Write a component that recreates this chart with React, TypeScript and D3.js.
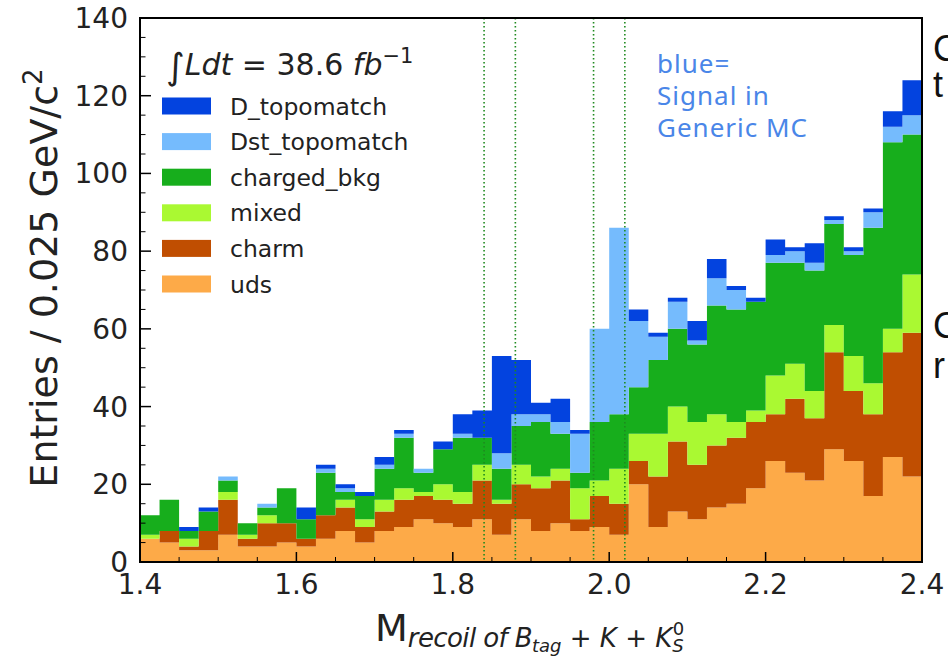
import React from 'react';
import * as d3 from 'd3';

// 40 bins of 0.025 GeV/c^2 from 1.4 to 2.4
const binLow = d3.range(40).map(i => 1.4 + i * 0.025);

const uds = [6, 5, 3, 3, 7, 4, 4, 5, 4, 6, 8, 5, 8, 9, 11, 10, 9, 11, 7, 11, 8, 10, 8, 9, 7, 20, 9, 13, 11, 14, 15, 19, 26, 23, 21, 29, 26, 17, 27, 22];
const charm = [0, 3, 1, 5, 9, 2, 6, 5, 2, 6, 6, 4, 5, 7, 6, 6, 6, 10, 8, 9, 11, 11, 3, 8, 8, 6, 13, 18, 14, 16, 17, 17, 12, 19, 16, 25, 18, 21, 27, 37];
const mixed = [1, 0, 2, 0, 2, 1, 2, 0, 0, 0, 2, 2, 3, 3, 1, 4, 3, 4, 1, 5, 3, 3, 8, 4, 9, 7, 11, 9, 11, 8, 4, 3, 10, 9, 7, 7, 9, 8, 6, 15];
const chargedBkg = [5, 8, 2, 5, 3, 3, 2, 9, 5, 11, 2, 6, 8, 13, 5, 9, 14, 7, 8, 10, 14, 9, 4, 15, 14, 12, 19, 20, 20, 28, 29, 28, 29, 26, 31, 26, 26, 40, 48, 36];
const dstTopomatch = [0, 0, 0, 0, 1, 0, 1, 0, 0, 1, 1, 0, 1, 1, 1, 0, 1, 0, 4, 3, 2, 3, 10, 24, 48, 17, 6, 7, 1, 7, 5, 0, 2, 3, 2, 1, 1, 4, 4, 5];
const dTopomatch = [0, 0, 1, 1, 0, 0, 0, 0, 3, 1, 1, 1, 2, 1, 0, 2, 5, 7, 25, 14, 3, 6, 1, 0, 0, 3, 1, 1, 5, 5, 1, 1, 4, 1, 5, 1, 1, 1, 4, 9];

const keys = ['uds', 'charm', 'mixed', 'charged_bkg', 'Dst_topomatch', 'D_topomatch'];
const colors: Record<string, string> = {
  uds: '#fdaa48',
  charm: '#c04e01',
  mixed: '#aaf932',
  charged_bkg: '#17ae1c',
  Dst_topomatch: '#75bbfd',
  D_topomatch: '#0343df',
};
const legendOrder = ['D_topomatch', 'Dst_topomatch', 'charged_bkg', 'mixed', 'charm', 'uds'];

const cutLines = [1.84, 1.88, 1.98, 2.02];
const yMajor = [0, 20, 40, 60, 80, 100, 120, 140];
const xMajor = [1.4, 1.6, 1.8, 2.0, 2.2, 2.4];

const W = 948, H = 659;
const x0 = 140, x1 = 922, yTop = 18, yBot = 562;

export default function App() {
  const x = d3.scaleLinear().domain([1.4, 2.4]).range([x0, x1]);
  const y = d3.scaleLinear().domain([0, 140]).range([yBot, yTop]);

  const table = binLow.map((lo, i) => ({
    lo,
    uds: uds[i],
    charm: charm[i],
    mixed: mixed[i],
    charged_bkg: chargedBkg[i],
    Dst_topomatch: dstTopomatch[i],
    D_topomatch: dTopomatch[i],
  }));
  const series = d3.stack<any>().keys(keys)(table);

  const area = (s: any) => {
    const pts = d3.range(41).map(i => {
      const d = s[Math.min(i, 39)];
      return { e: 1.4 + i * 0.025, a: d[0], b: d[1] };
    });
    return d3.area<any>()
      .curve(d3.curveStepAfter)
      .x(p => x(p.e))
      .y0(p => y(p.a))
      .y1(p => y(p.b))(pts) as string;
  };

  const yMinor = d3.range(0, 141, 5).filter(v => v % 20 !== 0);
  const xMinor = d3.range(0, 21).map(i => 1.4 + i * 0.05).filter((v, i) => i % 4 !== 0);
  const font = 'DejaVu Sans, sans-serif';

  return (
    <svg width={W} height={H} style={{ position: 'absolute', left: 0, top: 0, background: '#fff' }} fontFamily={font}>
      {series.map(s => (
        <path key={s.key} d={area(s)} fill={colors[s.key]} />
      ))}

      {cutLines.map(c => (
        <line key={c} x1={x(c)} x2={x(c)} y1={yTop} y2={yBot} stroke="#1f8a1f" strokeWidth={1.6} strokeDasharray="1.4 2.6" />
      ))}

      {/* ticks */}
      {yMajor.map(v => (
        <g key={'ym' + v}>
          <line x1={x0} x2={x0 + 11} y1={y(v)} y2={y(v)} stroke="#000" strokeWidth={1.5} />
          <text x={128} y={y(v) + 10} textAnchor="end" fontSize={28} fill="#222">{v}</text>
        </g>
      ))}
      {yMinor.map(v => (
        <line key={'yn' + v} x1={x0} x2={x0 + 5.5} y1={y(v)} y2={y(v)} stroke="#000" strokeWidth={1} />
      ))}
      {xMajor.map(v => (
        <g key={'xm' + v}>
          <line x1={x(v)} x2={x(v)} y1={yBot} y2={yBot - 10} stroke="#000" strokeWidth={1.5} />
          <text x={x(v)} y={594} textAnchor="middle" fontSize={28} fill="#222">{v.toFixed(1)}</text>
        </g>
      ))}
      {xMinor.map(v => (
        <line key={'xn' + v} x1={x(v)} x2={x(v)} y1={yBot} y2={yBot - 5} stroke="#000" strokeWidth={1} />
      ))}

      <rect x={x0} y={yTop} width={x1 - x0} height={yBot - yTop} fill="none" stroke="#000" strokeWidth={2} />

      {/* axis titles */}
      <text transform="translate(57,278) rotate(-90)" textAnchor="middle" fontSize={38} fill="#222">
        Entries / 0.025 GeV/c<tspan dy={-15} fontSize={26}>2</tspan>
      </text>
      <text x={375} y={641} fontSize={38} fill="#222">
        M<tspan dy={6} fontSize={26} fontStyle="italic" letterSpacing={-0.6}>recoil of B</tspan>
        <tspan dy={5} fontSize={18} fontStyle="italic">tag</tspan>
        <tspan dy={-5} fontSize={26}> + </tspan>
        <tspan fontSize={26} fontStyle="italic">K</tspan>
        <tspan fontSize={26}> + </tspan>
        <tspan fontSize={26} fontStyle="italic">K</tspan>
        <tspan dy={5} fontSize={18} fontStyle="italic">S</tspan>
        <tspan dx={-11} dy={-17} fontSize={18}>0</tspan>
      </text>

      {/* luminosity + legend */}
      <text x={166} y={75} fontSize={30} fill="#222">
        <tspan fontSize={36} dy={4}>∫</tspan>
        <tspan dy={-4} fontStyle="italic">Ldt</tspan>
        <tspan> = 38.6 </tspan>
        <tspan fontStyle="italic">fb</tspan>
        <tspan dy={-12} fontSize={21}>−1</tspan>
      </text>
      {legendOrder.map((k, i) => {
        const cy = 106 + i * 35.6;
        return (
          <g key={k}>
            <rect x={162} y={cy - 8.5} width={49} height={17} fill={colors[k]} />
            <text x={230} y={cy + 8.5} fontSize={23.5} fill="#222">{k}</text>
          </g>
        );
      })}

      {/* annotation */}
      <g fontFamily="Noto Sans, sans-serif" fontSize={26} fill="#4a86e8" letterSpacing={1}>
        <text x={657} y={73}>blue=</text>
        <text x={657} y={105}>Signal in</text>
        <text x={657} y={137}>Generic MC</text>
      </g>

      {/* cut-off slide text at right edge */}
      <g fontFamily="Liberation Sans, sans-serif" fontSize={36} fill="#111">
        <text x={933} y={61}>C</text>
        <text x={933} y={97}>t</text>
        <text x={933} y={338}>C</text>
        <text x={933} y={378}>r</text>
      </g>
    </svg>
  );
}
